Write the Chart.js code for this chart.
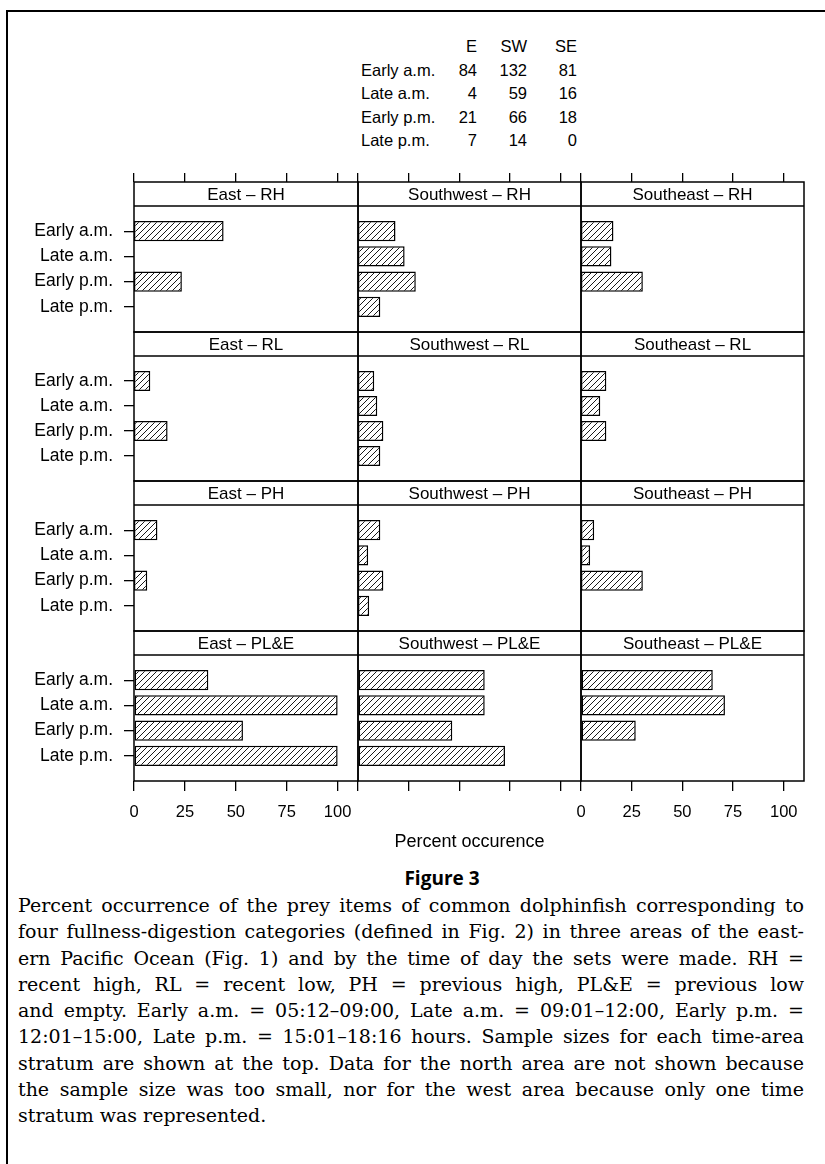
<!DOCTYPE html>
<html>
<head>
<meta charset="utf-8">
<script src="https://cdn.jsdelivr.net/npm/chart.js@4.4.1/dist/chart.umd.min.js"></script>
<style>
  html, body { margin: 0; padding: 0; background: #fff; }
  #page { position: relative; width: 825px; height: 1164px; overflow: hidden; font-family: "Liberation Sans", Arial, sans-serif; color: #000; }
  #frameTop { position: absolute; left: 6px; top: 10px; width: 819px; height: 2px; background: #000; }
  #frameLeft { position: absolute; left: 6px; top: 10px; width: 2px; height: 1154px; background: #000; }
  canvas { position: absolute; }
  .tcell { position: absolute; font-size: 16.5px; line-height: 24px; white-space: nowrap; }
  #figTitle { position: absolute; left: 0; width: 884px; top: 866px; text-align: center; font: bold 19px "Open Sans", "Liberation Sans", sans-serif; line-height: 24px; }
  #caption { position: absolute; left: 18px; width: 786px; top: 892px; font-family: "DejaVu Serif", serif; font-size: 19px; line-height: 26.3px; }
  #caption div { text-align: justify; text-align-last: justify; white-space: nowrap; }
  #caption div.last { text-align-last: left; }
</style>
</head>
<body>
<div id="page">
  <div id="frameTop"></div>
  <div id="frameLeft"></div>
  <div id="figTitle">Figure 3</div>
  <div id="caption"></div>
</div>
<script>
// categories
const timeLabels = ['Early a.m.', 'Late a.m.', 'Early p.m.', 'Late p.m.'];
const areaNames = ['East', 'Southwest', 'Southeast'];
const areaCodes = ['E', 'SW', 'SE'];
const stageNames = ['RH', 'RL', 'PH', 'PL&E'];
const xTicks = [0, 25, 50, 75, 100];

// sample sizes (table at the top)
const nEast = [84, 4, 21, 7];
const nSouthwest = [132, 59, 66, 14];
const nSoutheast = [81, 16, 18, 0];

// percent occurrence, by time of day
const eastRH = [44, 0, 23.5, 0];
const eastRL = [8, 0, 16.5, 0];
const eastPH = [11.5, 0, 6.5, 0];
const eastPLE = [36.5, 100, 53.5, 100];

const southwestRH = [18.5, 23, 28.5, 11];
const southwestRL = [8, 9.5, 12.5, 11];
const southwestPH = [11, 5, 12.5, 5.5];
const southwestPLE = [62.5, 62.5, 46.5, 72.5];

const southeastRH = [16, 15, 30.5, 0];
const southeastRL = [12.5, 9.5, 12.5, 0];
const southeastPH = [6.5, 4.5, 30.5, 0];
const southeastPLE = [65, 71, 27, 0];

const panelData = [
  [eastRH, southwestRH, southeastRH],
  [eastRL, southwestRL, southeastRL],
  [eastPH, southwestPH, southeastPH],
  [eastPLE, southwestPLE, southeastPLE]
];

const captionLines = [
  'Percent occurrence of the prey items of common dolphinfish corresponding to',
  'four fullness-digestion categories (defined in Fig. 2) in three areas of the east-',
  'ern Pacific Ocean (Fig. 1) and by the time of day the sets were made. RH =',
  'recent high, RL = recent low, PH = previous high, PL&E = previous low',
  'and empty. Early a.m. = 05:12\u201309:00, Late a.m. = 09:01\u201312:00, Early p.m. =',
  '12:01\u201315:00, Late p.m. = 15:01\u201318:16 hours. Sample sizes for each time-area',
  'stratum are shown at the top. Data for the north area are not shown because',
  'the sample size was too small, nor for the west area because only one time',
  'stratum was represented.'
];

Chart.defaults.font.family = '"Liberation Sans", Arial, sans-serif';
Chart.defaults.font.size = 17;
Chart.defaults.color = '#000';

const page = document.getElementById('page');

// sample size table
const nCols = [nEast, nSouthwest, nSoutheast];
const colRight = [477, 527, 577];
function addCell(text, x, y, right) {
  const d = document.createElement('div');
  d.className = 'tcell';
  d.textContent = text;
  d.style.top = (y - 12) + 'px';
  if (right) { d.style.right = (825 - x) + 'px'; } else { d.style.left = x + 'px'; }
  page.appendChild(d);
}
areaCodes.forEach((a, j) => addCell(a, colRight[j], 46, true));
timeLabels.forEach((t, i) => {
  const y = 69.5 + i * 23.5;
  addCell(t, 361, y, false);
  nCols.forEach((col, j) => addCell(String(col[i]), colRight[j], y, true));
});

// caption
const cap = document.getElementById('caption');
captionLines.forEach((line, i) => {
  const d = document.createElement('div');
  d.textContent = line;
  if (i === captionLines.length - 1) d.className = 'last';
  cap.appendChild(d);
});

function makeHatch() {
  const c = document.createElement('canvas');
  c.width = 6; c.height = 6;
  const g = c.getContext('2d');
  g.fillStyle = '#fff';
  g.fillRect(0, 0, 6, 6);
  g.strokeStyle = '#000';
  g.lineWidth = 0.9;
  g.beginPath();
  g.moveTo(-1, 7); g.lineTo(7, -1);
  g.moveTo(-1, 1); g.lineTo(1, -1);
  g.moveTo(5, 7); g.lineTo(7, 5);
  g.stroke();
  return g.createPattern(c, 'repeat');
}
const hatch = makeHatch();

// keep every panel the same size, whatever the labels need
function noPad(s) {
  s.paddingLeft = 0; s.paddingRight = 0; s.paddingTop = 0; s.paddingBottom = 0;
}

// box around the panel and its strip
const framePlugin = {
  id: 'frame',
  afterDraw(chart) {
    const ctx = chart.ctx;
    const a = chart.chartArea;
    const s = chart.scales.xs;
    ctx.save();
    ctx.strokeStyle = '#000';
    ctx.lineWidth = 1.5;
    ctx.strokeRect(a.left, s.top, a.right - a.left, a.bottom - s.top);
    ctx.beginPath();
    ctx.moveTo(a.left, s.bottom);
    ctx.lineTo(a.right, s.bottom);
    ctx.stroke();
    ctx.restore();
  }
};

const colLeft = [134, 358, 581];
const colEnd = [358, 581, 804];
const stripTop = [182, 332, 481, 631];
const stripH = 24;
const panelH = [126, 125, 126, 126];
const bottomAxisH = 75;

for (let r = 0; r < 4; r++) {
  for (let c = 0; c < 3; c++) {
    const left = c === 0 ? 0 : colLeft[c] - 12;
    const right = colEnd[c] + 12;
    const top = stripTop[r] - 13;
    const panelBottom = stripTop[r] + stripH + panelH[r];
    const bottom = r === 3 ? panelBottom + bottomAxisH : panelBottom + 4;

    const cv = document.createElement('canvas');
    cv.width = right - left;
    cv.height = bottom - top;
    cv.style.left = left + 'px';
    cv.style.top = top + 'px';
    cv.style.width = (right - left) + 'px';
    cv.style.height = (bottom - top) + 'px';
    page.appendChild(cv);

    const values = panelData[r][c];
    const scales = {
      x: {
        type: 'linear', min: 0, max: 110,
        offset: false,
        display: r === 3,
        position: 'bottom',
        afterBuildTicks: s => { s.ticks = xTicks.map(v => ({ value: v })); },
        ticks: {
          padding: 12,
          maxRotation: 0,
          font: { size: 16.5 },
          callback: v => (c === 1 ? '' : String(v))
        },
        grid: { drawOnChartArea: false, tickLength: 10, tickColor: '#000', lineWidth: 1.3 },
        border: { display: false },
        title: {
          display: c === 1,
          text: 'Percent occurence',
          font: { size: 18 },
          padding: { top: 0, bottom: 3 }
        },
        afterFit: s => { noPad(s); if (r === 3) s.height = bottomAxisH; }
      },
      xs: {
        type: 'linear', min: 0, max: 110,
        position: 'top',
        weight: 0,
        ticks: { display: false },
        grid: { display: false },
        border: { display: false },
        title: {
          display: true,
          text: areaNames[c] + ' \u2013 ' + stageNames[r],
          font: { size: 17 },
          padding: { top: 3, bottom: 0 }
        },
        afterFit: s => { noPad(s); s.height = stripH; }
      },
      y: {
        type: 'linear', min: -1, max: 4, reverse: true,
        offset: false,
        display: c === 0,
        afterBuildTicks: s => { s.ticks = timeLabels.map((t, i) => ({ value: i })); },
        ticks: {
          padding: 11,
          font: { size: 17.5 },
          callback: v => timeLabels[v]
        },
        grid: { offset: false, drawOnChartArea: false, tickLength: 10, tickColor: '#000', lineWidth: 1.3 },
        border: { display: false },
        afterFit: s => { noPad(s); if (c === 0) s.width = 134; }
      }
    };
    if (r === 0) {
      scales.xt = {
        type: 'linear', min: 0, max: 110,
        position: 'top',
        weight: 1,
        afterBuildTicks: s => { s.ticks = xTicks.map(v => ({ value: v })); },
        ticks: { display: false },
        grid: { drawOnChartArea: false, tickLength: 9, tickColor: '#000', lineWidth: 1.3 },
        border: { display: false },
        afterFit: s => { noPad(s); s.height = 13; }
      };
    }

    new Chart(cv, {
      type: 'bar',
      data: {
        datasets: [{
          data: values.map((v, i) => ({ x: v, y: i })),
          backgroundColor: hatch,
          borderColor: '#000',
          borderWidth: 1.5,
          borderSkipped: false,
          barPercentage: 0.8,
          categoryPercentage: 1.0
        }]
      },
      options: {
        indexAxis: 'y',
        responsive: false,
        animation: false,
        events: [],
        layout: {
          padding: {
            left: c === 0 ? 0 : 12,
            right: 12,
            top: r === 0 ? 0 : 13,
            bottom: r === 3 ? 0 : 4
          }
        },
        plugins: { legend: { display: false }, tooltip: { enabled: false } },
        scales: scales
      },
      plugins: [framePlugin]
    });
  }
}
</script>
</body>
</html>
